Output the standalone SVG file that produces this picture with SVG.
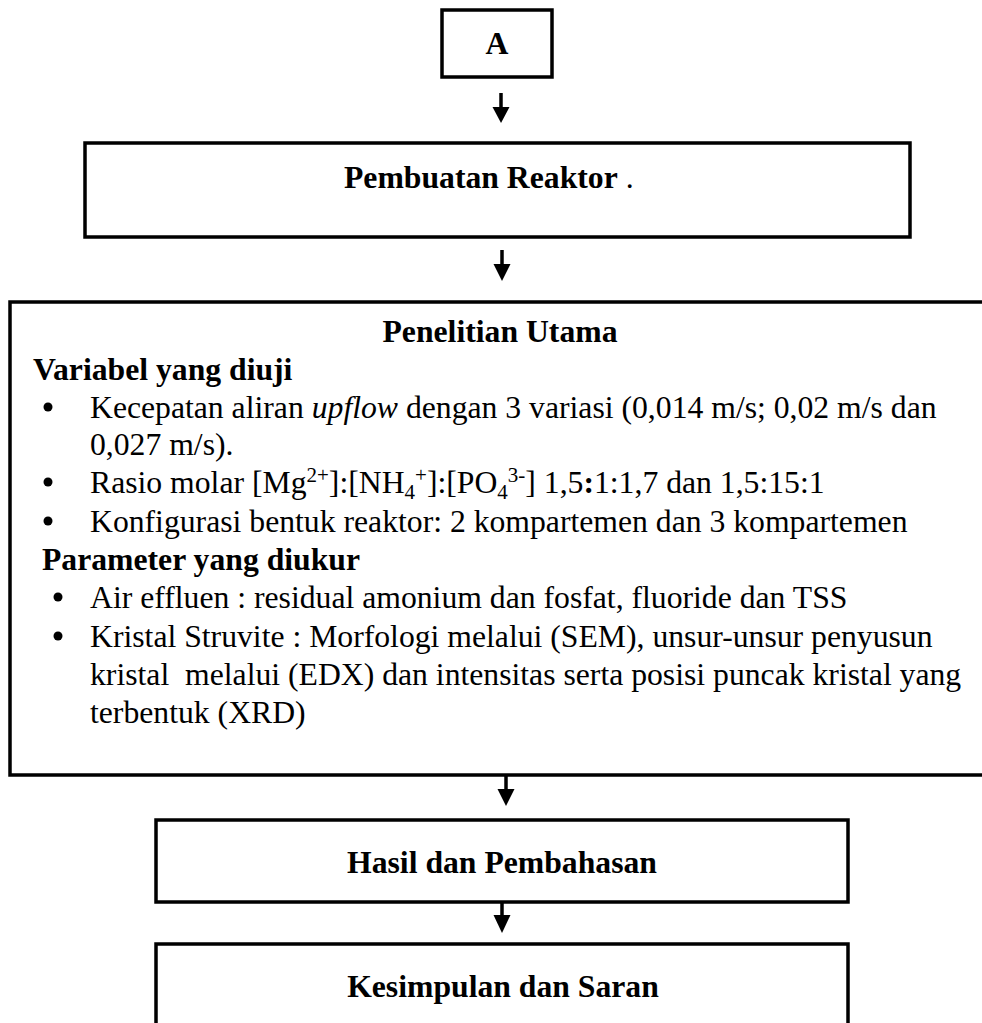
<svg xmlns="http://www.w3.org/2000/svg" width="982" height="1023" viewBox="0 0 982 1023">
<style>
.box{fill:#fff;stroke:#000;stroke-width:3.5}
.t{font-family:"Liberation Serif","Times New Roman",serif;font-size:31.7px;fill:#000;white-space:pre}
.b{font-weight:bold}
.i{font-style:italic}
.s{font-size:21px}
.shaft{stroke:#000;stroke-width:3.5;fill:none}
.head{fill:#000}
</style>
<rect width="982" height="1023" fill="#fff"/>
<g id="node-a">
<rect class="box" x="442" y="10" width="110" height="67"/>
<text class="t b" x="497" y="54" text-anchor="middle">A</text>
</g>
<g id="node-pembuatan">
<rect class="box" x="85" y="143" width="825" height="94"/>
<text class="t" x="344" y="188"><tspan class="b">Pembuatan Reaktor</tspan> .</text>
</g>
<g id="node-penelitian">
<rect class="box" x="10" y="302" width="1000" height="473"/>
<text class="t b" x="500" y="342" text-anchor="middle">Penelitian Utama</text>
<text class="t b" x="33" y="380">Variabel yang diuji</text>
<circle cx="48" cy="407" r="4.5"/>
<text class="t" x="90" y="418">Kecepatan aliran <tspan class="i">upflow</tspan> dengan 3 variasi (0,014 m/s; 0,02 m/s dan</text>
<text class="t" x="90" y="455">0,027 m/s).</text>
<circle cx="48" cy="482" r="4.5"/>
<text class="t" x="90" y="493">Rasio molar [Mg<tspan class="s" dy="-11">2+</tspan><tspan dy="11">]:[NH</tspan><tspan class="s" dy="6">4</tspan><tspan class="s" dy="-17">+</tspan><tspan dy="11">]:[PO</tspan><tspan class="s" dy="6">4</tspan><tspan class="s" dy="-17">3-</tspan><tspan dy="11">] 1,5</tspan><tspan class="b">:</tspan>1:1,7 dan 1,5:15:1</text>
<circle cx="48" cy="521" r="4.5"/>
<text class="t" x="90" y="532">Konfigurasi bentuk reaktor: 2 kompartemen dan 3 kompartemen</text>
<text class="t b" x="42" y="570">Parameter yang diukur</text>
<circle cx="58" cy="597" r="4.5"/>
<text class="t" x="90" y="608">Air effluen : residual amonium dan fosfat, fluoride dan TSS</text>
<circle cx="58" cy="636" r="4.5"/>
<text class="t" x="90" y="647">Kristal Struvite : Morfologi melalui (SEM), unsur-unsur penyusun</text>
<text class="t" x="90" y="685">kristal  melalui (EDX) dan intensitas serta posisi puncak kristal yang</text>
<text class="t" x="90" y="723">terbentuk (XRD)</text>
</g>
<g id="node-hasil">
<rect class="box" x="156" y="820" width="692" height="82"/>
<text class="t b" x="502" y="873" text-anchor="middle">Hasil dan Pembahasan</text>
</g>
<g id="node-kesimpulan">
<rect class="box" x="156" y="944" width="692" height="100"/>
<text class="t b" x="503" y="997" text-anchor="middle">Kesimpulan dan Saran</text>
</g>
<g id="connectors">
<line class="shaft" x1="501" y1="93" x2="501" y2="108"/>
<polygon class="head" points="492.5,107 509.5,107 501,123"/>
<line class="shaft" x1="502" y1="250" x2="502" y2="265"/>
<polygon class="head" points="493.5,264 510.5,264 502,281"/>
<line class="shaft" x1="506" y1="775" x2="506" y2="790"/>
<polygon class="head" points="497.5,789 514.5,789 506,806"/>
<line class="shaft" x1="502" y1="902" x2="502" y2="916"/>
<polygon class="head" points="493.5,915 510.5,915 502,933"/>
</g>
</svg>
